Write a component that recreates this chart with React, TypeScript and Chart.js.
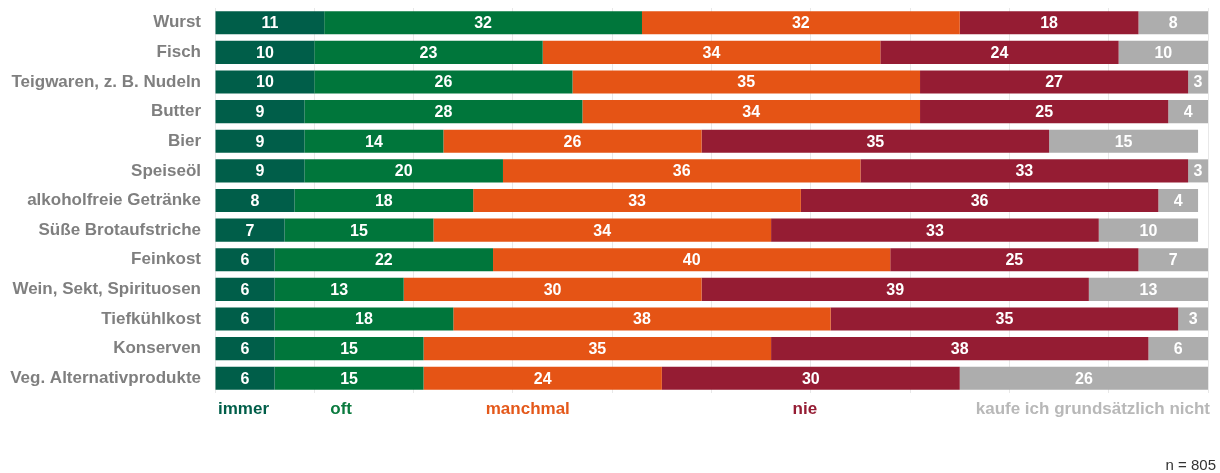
import React, { useEffect, useRef } from "react";
import { Chart, registerables } from "chart.js";

Chart.register(...registerables);

const categories = [
  "Wurst",
  "Fisch",
  "Teigwaren, z. B. Nudeln",
  "Butter",
  "Bier",
  "Speiseöl",
  "alkoholfreie Getränke",
  "Süße Brotaufstriche",
  "Feinkost",
  "Wein, Sekt, Spirituosen",
  "Tiefkühlkost",
  "Konserven",
  "Veg. Alternativprodukte",
];

const seriesNames = ["immer", "oft", "manchmal", "nie", "kaufe ich grundsätzlich nicht"];
const immer = [11, 10, 10, 9, 9, 9, 8, 7, 6, 6, 6, 6, 6];
const oft = [32, 23, 26, 28, 14, 20, 18, 15, 22, 13, 18, 15, 15];
const manchmal = [32, 34, 35, 34, 26, 36, 33, 34, 40, 30, 38, 35, 24];
const nie = [18, 24, 27, 25, 35, 33, 36, 33, 25, 39, 35, 38, 30];
const nicht = [8, 10, 3, 4, 15, 3, 4, 10, 7, 13, 3, 6, 26];

const barColors = ["#005e49", "#00763b", "#e55415", "#951c33", "#adadad"];
const legendColors = ["#005e49", "#0a7a3e", "#e4581a", "#951c33", "#b8b8b8"];
// legend text anchors, in x-axis units
const legendAnchors = [0.3, 12.7, 31.5, 59.4, 100.2];
const legendAligns: CanvasTextAlign[] = ["left", "center", "center", "center", "right"];
const sampleNote = "n = 805";

const FONT = "'Liberation Sans', Arial, sans-serif";

const labelPlugin = {
  id: "segLabels",
  afterDatasetsDraw(chart: any) {
    const ctx = chart.ctx;
    const area = chart.chartArea;
    ctx.save();
    ctx.font = `bold 16px ${FONT}`;
    ctx.fillStyle = "#ffffff";
    ctx.textAlign = "center";
    ctx.textBaseline = "middle";
    chart.data.datasets.forEach((ds: any, di: number) => {
      const meta = chart.getDatasetMeta(di);
      meta.data.forEach((el: any, i: number) => {
        const v = ds.data[i];
        const x1 = Math.min(el.x, area.right);
        const x0 = Math.min(el.base, area.right);
        ctx.fillText(String(v), (x0 + x1) / 2, el.y + 1);
      });
    });
    ctx.restore();
  },
  afterDraw(chart: any) {
    const ctx = chart.ctx;
    const xs = chart.scales.x;
    const area = chart.chartArea;
    ctx.save();
    ctx.font = `bold 17px ${FONT}`;
    ctx.textBaseline = "middle";
    seriesNames.forEach((name, i) => {
      ctx.fillStyle = legendColors[i];
      ctx.textAlign = legendAligns[i];
      ctx.fillText(name, xs.getPixelForValue(legendAnchors[i]), area.bottom + 16);
    });
    ctx.font = `15px ${FONT}`;
    ctx.fillStyle = "#333333";
    ctx.textAlign = "right";
    ctx.fillText(sampleNote, chart.width - 4, chart.height - 7);
    ctx.restore();
  },
};

export default function App() {
  const ref = useRef<HTMLCanvasElement | null>(null);
  useEffect(() => {
    if (!ref.current) return;
    const all = [immer, oft, manchmal, nie, nicht];
    const chart = new Chart(ref.current, {
      type: "bar",
      data: {
        labels: categories,
        datasets: all.map((d, i) => ({
          label: seriesNames[i],
          data: d,
          backgroundColor: barColors[i],
          borderWidth: 0,
          barPercentage: 0.78,
          categoryPercentage: 1,
        })),
      },
      options: {
        indexAxis: "y",
        responsive: false,
        animation: false,
        layout: { padding: { left: 0, right: 12, top: 8, bottom: 80 } },
        plugins: { legend: { display: false }, tooltip: { enabled: false } },
        scales: {
          x: {
            stacked: true,
            min: 0,
            max: 100,
            ticks: { display: false, stepSize: 10 },
            grid: { color: "#e8e8e8", drawTicks: false, lineWidth: 1 },
            border: { display: false },
            afterFit: (s: any) => {
              s.height = 0;
              s.paddingLeft = 0;
              s.paddingRight = 0;
            },
          },
          y: {
            stacked: true,
            grid: { display: false, drawTicks: false },
            border: { display: false },
            ticks: {
              color: "#7f7f7f",
              padding: 14,
              font: { family: FONT, size: 17, weight: "bold" },
            },
            afterFit: (s: any) => {
              s.width = 215;
              s.paddingTop = 0;
              s.paddingBottom = 0;
            },
          },
        },
      },
      plugins: [labelPlugin],
    } as any);
    return () => chart.destroy();
  }, []);
  return (
    <div style={{ position: "fixed", left: 0, top: 0, width: 1220, height: 473, background: "#fff" }}>
      <canvas ref={ref} width={1220} height={473} style={{ display: "block" }} />
    </div>
  );
}
